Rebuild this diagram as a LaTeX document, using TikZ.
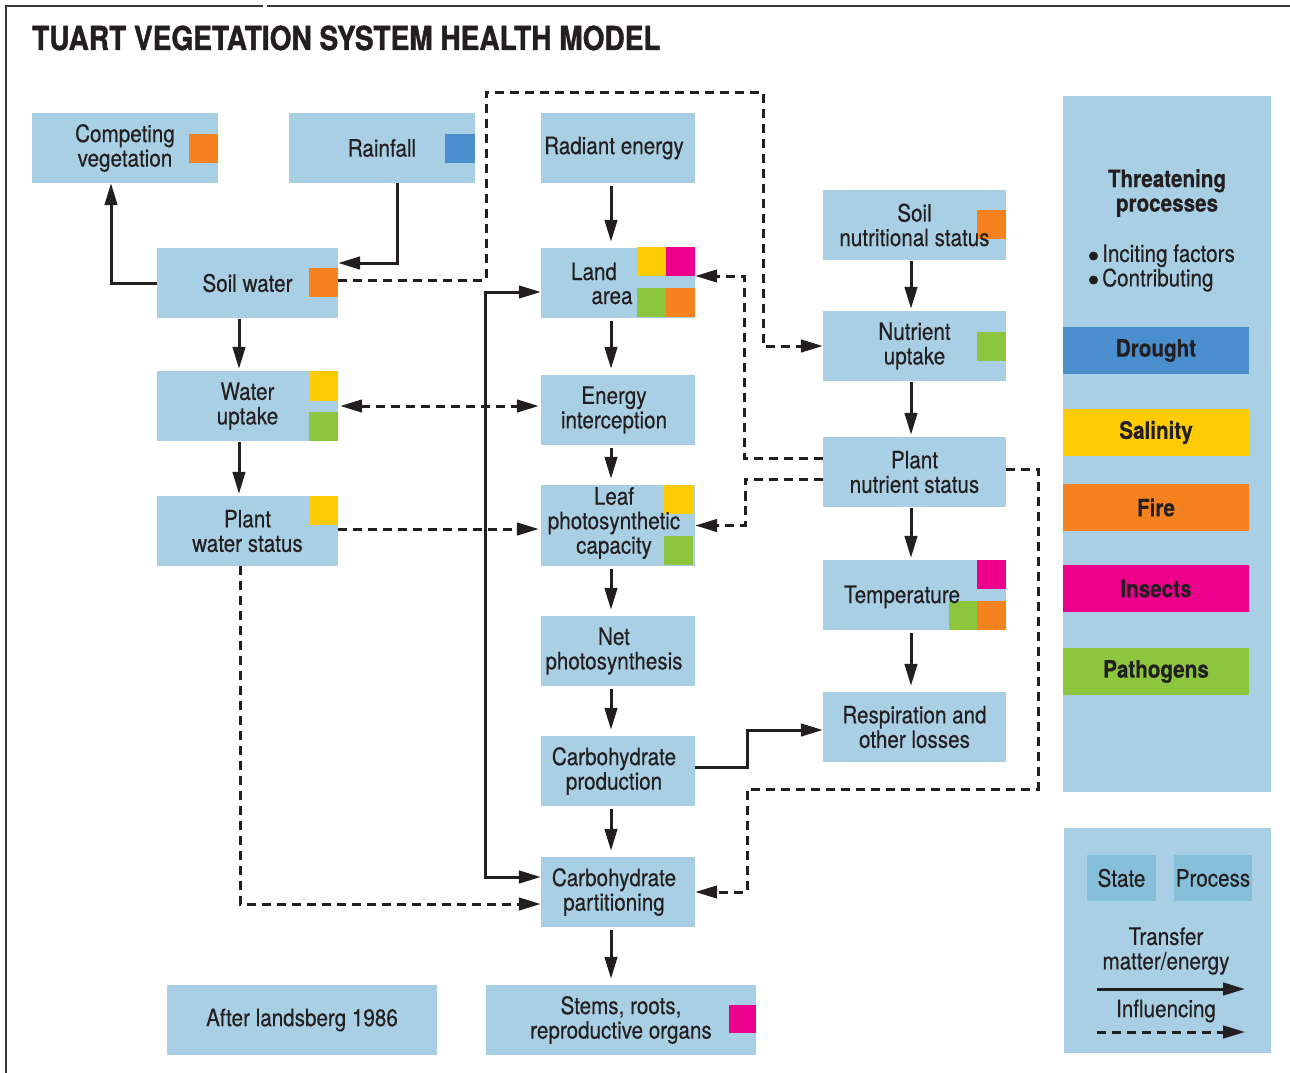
\documentclass[tikz,border=0pt]{standalone}
\usepackage{fontspec}
\setmainfont{TeX Gyre Heros}[FakeStretch=0.86,FakeBold=0.3]
\newfontfamily\titlefont{TeX Gyre Heros}[FakeStretch=0.85,FakeBold=1.2]
\usetikzlibrary{arrows.meta,calc}
\definecolor{boxblue}{HTML}{A8CFE3}
\definecolor{legblue}{HTML}{86BFDA}
\definecolor{textdark}{HTML}{231F20}
\definecolor{cB}{HTML}{4B8ECE}
\definecolor{cY}{HTML}{FFCB05}
\definecolor{cO}{HTML}{F5821F}
\definecolor{cM}{HTML}{EC008C}
\definecolor{cG}{HTML}{8CC63F}
\definecolor{framegray}{HTML}{3A3A3A}
\begin{document}
\begin{tikzpicture}[x=1pt,y=-1pt,
  >={Triangle[length=22pt,width=12.5pt]},
  box/.style={fill=boxblue, inner sep=0pt, minimum height=70pt, align=center, text=textdark, font=\fontsize{24}{24.5}\selectfont},
  txt/.style={inner sep=0pt, align=center, text=textdark, font=\fontsize{24}{24.5}\selectfont},
  bar/.style={inner sep=0pt, minimum width=186pt, minimum height=47pt, text=textdark, font=\fontsize{24}{24.5}\selectfont\bfseries},
  legbox/.style={fill=legblue, inner sep=0pt, minimum height=46pt, text=textdark, font=\fontsize{24}{24.5}\selectfont},
  conn/.style={draw=textdark, line width=3pt},
  dconn/.style={conn, dash pattern=on 9pt off 6pt},
  vch/.style={conn, ->, shorten <=3pt, shorten >=6pt},
  rch/.style={conn, ->, shorten <=1pt, shorten >=2pt}
]
\useasboundingbox (0,0) rectangle (1290,1073);
% frame
\draw[framegray, line width=2pt] (5,6) -- (263,6);
\draw[framegray, line width=2pt] (267,6) -- (1290,6);
\draw[framegray, line width=2pt] (6,6) -- (6,1073);
% title
\node[anchor=base west, inner sep=0pt, text=textdark, font=\titlefont\bfseries\fontsize{33}{33}\selectfont] (title) at (32,50) {TUART VEGETATION SYSTEM HEALTH MODEL};

% boxes
\node[box, minimum width=186pt] (comp) at (125,148) {Competing\\vegetation};
\node[box, minimum width=186pt] (rain) at (382,148) {Rainfall};
\node[box, minimum width=181pt] (soilw) at (247.5,283) {Soil water};
\node[box, minimum width=154pt] (rad) at (618,148) {};
\node[box, minimum width=154pt] (land) at (618,283) {};
\node[box, minimum width=181pt] (wup) at (247.5,406) {Water\\uptake};
\node[box, minimum width=154pt] (eint) at (618,410) {};
\node[box, minimum width=181pt] (pws) at (247.5,531) {Plant\\water status};
\node[box, minimum width=154pt, minimum height=81pt] (leaf) at (618,525.5) {};
\node[box, minimum width=154pt] (net) at (618,651) {};
\node[box, minimum width=154pt] (cprod) at (618,771) {};
\node[box, minimum width=154pt] (cpart) at (618,892) {};
\node[box, minimum width=270pt] (stems) at (621,1020) {Stems, roots,\\reproductive organs};
\node[box, minimum width=270pt] (after) at (302,1020) {After landsberg 1986};
\node[box, minimum width=183pt] (snut) at (914.5,225) {};
\node[box, minimum width=183pt] (nup) at (914.5,346) {Nutrient\\uptake};
\node[box, minimum width=183pt] (pns) at (914.5,472) {Plant\\nutrient status};
\node[box, minimum width=183pt] (temp) at (914.5,595) {};
\node[box, minimum width=183pt] (resp) at (914.5,727) {Respiration and\\other losses};

% coloured squares
\fill[cO] (189,134) rectangle (218,163);
\fill[cB] (445,134) rectangle (475,163);
\fill[cO] (309,268) rectangle (338,297);
\fill[cY] (637,247) rectangle (666,276);
\fill[cM] (666,247) rectangle (695,276);
\fill[cG] (637,288) rectangle (666,317);
\fill[cO] (666,288) rectangle (695,317);
\fill[cY] (309,371) rectangle (338,401);
\fill[cG] (309,412) rectangle (338,441);
\fill[cY] (309,496) rectangle (338,525);
\fill[cY] (664,485) rectangle (693,514);
\fill[cG] (664,536) rectangle (693,565);
\fill[cM] (729,1005) rectangle (756,1033);
\fill[cO] (977,210) rectangle (1006,239);
\fill[cG] (977,332) rectangle (1006,361);
\fill[cM] (977,560) rectangle (1006,589);
\fill[cG] (949,601) rectangle (977,630);
\fill[cO] (977,601) rectangle (1006,630);

% texts of the central column (slightly left of box centres) and over squares
\node[txt] (radt) at (614,148) {Radiant energy};
\node[txt, anchor=base] (landt1) at (594,280) {Land};
\node[txt, anchor=base] (landt2) at (612,304) {area};
\node[txt] (eintt) at (614,410) {Energy\\interception};
\node[txt] (leaft) at (614,523) {Leaf\\photosynthetic\\capacity};
\node[txt] (nett) at (614,651) {Net\\photosynthesis};
\node[txt] (cprodt) at (614,771) {Carbohydrate\\production};
\node[txt] (cpartt) at (614,892) {Carbohydrate\\partitioning};
\node[txt] (snutt) at (914.5,225) {Soil\\nutritional status};
\node[txt, anchor=base] (tempt) at (902,603) {Temperature};

% waypoints
\coordinate (d1) at (486,92);
\coordinate (d2) at (763,92);
\coordinate (s1) at (485,600);
\coordinate (d3) at (744,370);
\coordinate (d4) at (745,500);
\coordinate (d5) at (1038,789);
\coordinate (d6) at (747,789);
\coordinate (s2) at (747,750);

% solid connectors
\draw[conn, ->] (soilw.west) -| ([xshift=-14pt]comp.south);
\draw[conn, ->] ([xshift=15pt]rain.south) |- ([yshift=20pt]soilw.east);
\draw[vch] ([xshift=-7pt]rad.south) -- ([xshift=-7pt]land.north);
\draw[vch] ([xshift=-7pt]land.south) -- ([xshift=-7pt]eint.north);
\draw[vch] ([xshift=-7pt]eint.south) -- ([xshift=-7pt]leaf.north);
\draw[vch] ([xshift=-7pt]leaf.south) -- ([xshift=-7pt]net.north);
\draw[vch] ([xshift=-7pt]net.south) -- ([xshift=-7pt]cprod.north);
\draw[vch] ([xshift=-7pt]cprod.south) -- ([xshift=-7pt]cpart.north);
\draw[vch] ([xshift=-7pt]cpart.south) -- ([xshift=-10pt]stems.north);
\draw[rch] ([xshift=-8.5pt]soilw.south) -- ([xshift=-8.5pt]wup.north);
\draw[rch] ([xshift=-8.5pt]wup.south) -- ([xshift=-8.5pt]pws.north);
\draw[rch] ([xshift=-3.5pt]snut.south) -- ([xshift=-3.5pt]nup.north);
\draw[rch] ([xshift=-3.5pt]nup.south) -- ([xshift=-3.5pt]pns.north);
\draw[rch] ([xshift=-3.5pt]pns.south) -- ([xshift=-3.5pt]temp.north);
\draw[vch] ([xshift=-3.5pt]temp.south) -- ([xshift=-3.5pt]resp.north);
\draw[conn, <->] ([yshift=-9pt]land.west) -| (s1) |- ([yshift=15pt]cpart.west);
\draw[conn, ->] ([yshift=4pt]cprod.east) -| (s2) |- ([yshift=-3pt]resp.west);

% dashed connectors
\draw[dconn, ->] ([yshift=3pt]soilw.east) -| (d1) -- (d2) |- (nup.west);
\draw[dconn, <->] ([xshift=2pt]wup.east) -- ([xshift=-2pt]wup.east -| eint.west);
\draw[dconn, ->] ([yshift=2pt]pws.east) -- ([xshift=-2pt,yshift=2pt]pws.east -| leaf.west);
\draw[dconn, ->] ([xshift=-7.5pt]pws.south) |- ([yshift=-12pt]cpart.west);
\draw[dconn, ->] ([yshift=14pt]pns.west) -| (d3) |- ([yshift=7pt]land.east);
\draw[dconn, ->] ([yshift=-7pt]pns.west) -| (d4) |- (leaf.east);
\draw[dconn, ->] ([yshift=3pt]pns.east) -| (d5) -- (d6) |- (cpart.east);

% threatening processes panel
\node[fill=boxblue, inner sep=0pt, minimum width=208pt, minimum height=696pt] (tpanel) at (1167,444) {};
\node[txt, font=\fontsize{24}{24.5}\selectfont\bfseries] (tptitle) at (1167,193) {Threatening\\processes};
\fill[textdark] (1093.5,256) circle (4.5pt);
\fill[textdark] (1093.5,280) circle (4.5pt);
\node[txt, anchor=west, align=left] (tpbul) at (1102,268) {Inciting factors\\Contributing};
\node[bar, fill=cB] (drought) at (1156,350.5) {Drought};
\node[bar, fill=cY] (salinity) at (1156,432.5) {Salinity};
\node[bar, fill=cO] (fire) at (1156,507.5) {Fire};
\node[bar, fill=cM] (insects) at (1156,588.5) {Insects};
\node[bar, fill=cG] (pathogens) at (1156,671.5) {Pathogens};

% key panel
\node[fill=boxblue, inner sep=0pt, minimum width=207pt, minimum height=225pt] (kpanel) at (1167.5,940.5) {};
\node[legbox, minimum width=69pt] (kstate) at (1121.5,878) {State};
\node[legbox, minimum width=78pt] (kproc) at (1213,878) {Process};
\node[txt] (ktrans) at (1166,951) {Transfer\\matter/energy};
\node[txt] (kinfl) at (1166,1011) {Influencing};
\coordinate (la1) at (1097,989);
\coordinate (la2) at (1245,989);
\coordinate (lb1) at (1097,1032);
\coordinate (lb2) at (1245,1032);
\draw[conn, ->] (la1) -- (la2);
\draw[dconn, ->] (lb1) -- (lb2);
\end{tikzpicture}
\end{document}
